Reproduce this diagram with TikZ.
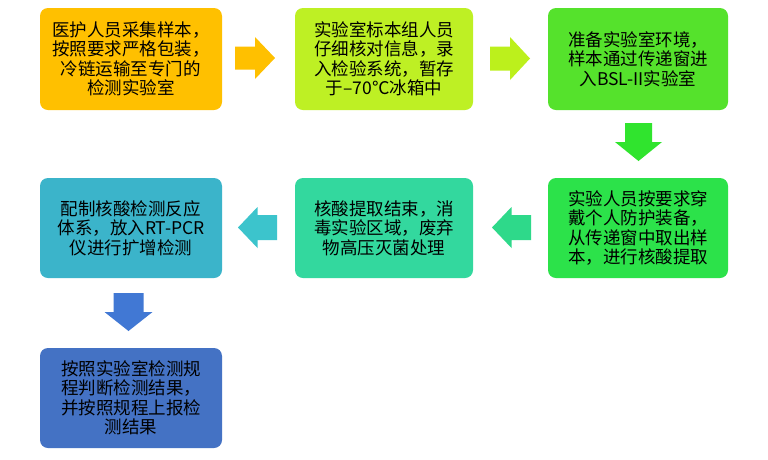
\documentclass[tikz,border=0pt]{standalone}
\usepackage{fontspec}
\newfontfamily\cjk{Noto Sans CJK SC}
\definecolor{cA}{HTML}{FFC000}
\definecolor{cB}{HTML}{BEF024}
\definecolor{cC}{HTML}{55E22C}
\definecolor{cD}{HTML}{2CE24A}
\definecolor{cE}{HTML}{33D89E}
\definecolor{cF}{HTML}{3BB4CA}
\definecolor{cG}{HTML}{4472C4}
\definecolor{aB}{HTML}{BCF01C}
\definecolor{aC}{HTML}{30E42E}
\definecolor{aD}{HTML}{2ED98A}
\definecolor{aE}{HTML}{3CC4CC}
\definecolor{aF}{HTML}{4178D4}
\begin{document}
\begin{tikzpicture}[x=1pt,y=-1pt,
  stepbox/.style={rounded corners=8pt, inner sep=0pt, align=center,
    font=\cjk\fontsize{17.5}{19.5}\selectfont, text=black},
]
\useasboundingbox[fill=white] (0,0) rectangle (768,459);
% boxes
\node[stepbox, fill=cA, minimum width=182pt, minimum height=102pt] (b1) at (131,59)
  {医护人员采集样本，\\按照要求严格包装，\\冷链运输至专门的\\检测实验室};
\node[stepbox, fill=cB, minimum width=178pt, minimum height=102pt] (b2) at (384,59)
  {实验室标本组人员\\仔细核对信息，录\\入检验系统，暂存\\于–70℃冰箱中};
\node[stepbox, fill=cC, minimum width=180pt, minimum height=102pt] (b3) at (638,59)
  {准备实验室环境，\\样本通过传递窗进\\入BSL-II实验室};
\node[stepbox, fill=cD, minimum width=180pt, minimum height=100pt] (b4) at (638,228)
  {实验人员按要求穿\\戴个人防护装备，\\从传递窗中取出样\\本，进行核酸提取};
\node[stepbox, fill=cE, minimum width=178pt, minimum height=100pt] (b5) at (384,228)
  {核酸提取结束，消\\毒实验区域，废弃\\物高压灭菌处理};
\node[stepbox, fill=cF, minimum width=182pt, minimum height=100pt] (b6) at (131,228)
  {配制核酸检测反应\\体系，放入RT-PCR\\仪进行扩增检测};
\node[stepbox, fill=cG, minimum width=182pt, minimum height=100pt] (b7) at (131,398)
  {按照实验室检测规\\程判断检测结果，\\并按照规程上报检\\测结果};
% block arrows
\fill[cA, shift={(255,58)}] (-20,-11.5) -- (0,-11.5) -- (0,-21) -- (20,0) -- (0,21) -- (0,11.5) -- (-20,11.5) -- cycle;
\fill[aB, shift={(510,58.5)}] (-20,-12) -- (0,-12) -- (0,-21.5) -- (20,0) -- (0,21.5) -- (0,12) -- (-20,12) -- cycle;
\fill[aC, shift={(638.5,142)}] (-13.5,-19) -- (13.5,-19) -- (13.5,0) -- (23.5,0) -- (0,19) -- (-23.5,0) -- (-13.5,0) -- cycle;
\fill[aD, shift={(511.5,227.5)}] (19.5,-12.5) -- (0,-12.5) -- (0,-20.5) -- (-19.5,0) -- (0,20.5) -- (0,12.5) -- (19.5,12.5) -- cycle;
\fill[aE, shift={(257.5,227.5)}] (19.5,-12.5) -- (0,-12.5) -- (0,-20.5) -- (-19.5,0) -- (0,20.5) -- (0,12.5) -- (19.5,12.5) -- cycle;
\fill[aF, shift={(128.5,312)}] (-15,-19) -- (15,-19) -- (15,0) -- (24,0) -- (0,19) -- (-24,0) -- (-15,0) -- cycle;
\end{tikzpicture}
\end{document}
